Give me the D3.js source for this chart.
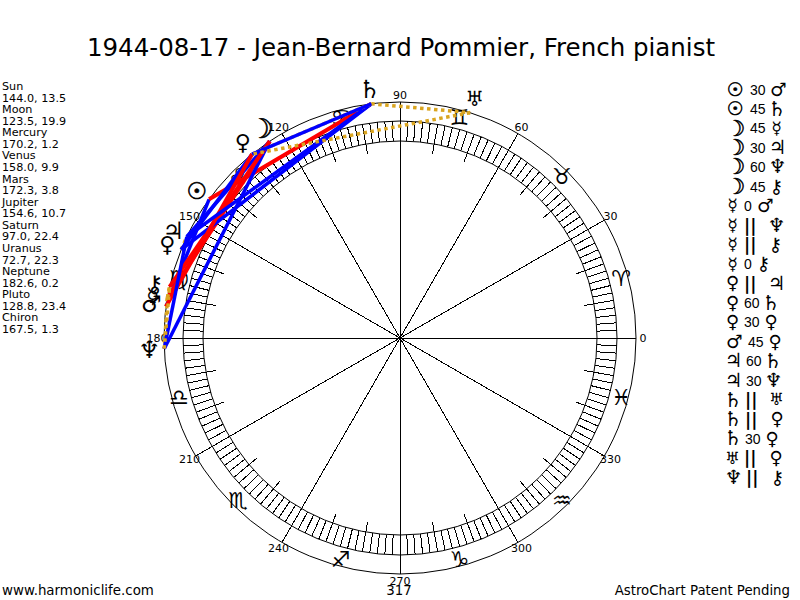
<!DOCTYPE html>
<html>
<head>
<meta charset="utf-8">
<script src="https://cdn.jsdelivr.net/npm/d3@7"></script>
<style>
  html, body { margin: 0; padding: 0; background: #fff; }
  text { font-family: "DejaVu Sans", sans-serif; fill: #000; }
</style>
</head>
<body>
<div id="chart"></div>
<script>
const title = "1944-08-17 - Jean-Bernard Pommier, French pianist";

// planet table
const planets = ["Sun", "Moon", "Mercury", "Venus", "Mars", "Jupiter", "Saturn", "Uranus", "Neptune", "Pluto", "Chiron"];
const longitudes = [144.0, 123.5, 170.2, 158.0, 172.3, 154.6, 97.0, 72.7, 182.6, 128.8, 167.5];
const latitudes = [13.5, 19.9, 1.2, 9.9, 3.8, 10.7, 22.4, 22.3, 0.2, 23.4, 1.3];
// the source chart draws Pluto with a Venus-like glyph
const planetGlyphs = ["☉", "☽", "☿", "♀", "♂", "♃", "♄", "♅", "♆", "♀", "⚷"];

const zodiac = ["♈", "♉", "♊", "♋", "♌", "♍", "♎", "♏", "♐", "♑", "♒", "♓"];
const degreeLabels = [0, 30, 60, 90, 120, 150, 180, 210, 240, 270, 300, 330];

// aspect list on the right: first planet, aspect, second planet
const aspectFrom = ["Sun", "Sun", "Moon", "Moon", "Moon", "Moon", "Mercury", "Mercury", "Mercury", "Mercury", "Venus", "Venus", "Venus", "Mars", "Jupiter", "Jupiter", "Saturn", "Saturn", "Saturn", "Uranus", "Neptune"];
const aspectKind = ["30", "45", "45", "30", "60", "45", "0", "||", "||", "0", "||", "60", "30", "45", "60", "30", "||", "||", "30", "||", "||"];
const aspectTo = ["Mars", "Saturn", "Mercury", "Jupiter", "Neptune", "Chiron", "Mars", "Neptune", "Chiron", "Chiron", "Jupiter", "Saturn", "Pluto", "Pluto", "Saturn", "Neptune", "Uranus", "Pluto", "Pluto", "Pluto", "Chiron"];

const footerLeft = "www.harmoniclife.com";
const footerRight = "AstroChart Patent Pending";
const footerCenter = "317";

const width = 800, height = 600;
const cx = 400, cy = 338;

const svg = d3.select("#chart").append("svg")
    .attr("width", width)
    .attr("height", height)
    .style("display", "block");

const angle = d3.scaleLinear().domain([0, 360]).range([0, -2 * Math.PI]);
const radius = { outer: 236, bandOuter: 217, bandInner: 197, stub: 187, zodiac: 229, planet: 251, label: 243 };
const px = (deg, r) => cx + r * Math.cos(angle(deg));
const py = (deg, r) => cy + r * Math.sin(angle(deg));
const lonOf = name => longitudes[planets.indexOf(name)];
const glyphOf = name => planetGlyphs[planets.indexOf(name)];

// DejaVu draws some of these small, so each gets its own size
const glyphSize = { Sun: 23, Moon: 27, Mercury: 21, Venus: 22, Mars: 23, Jupiter: 24, Saturn: 25, Uranus: 21, Neptune: 24, Pluto: 22, Chiron: 23 };
const glyphStroke = name => (name === "Sun" || name === "Moon") ? "#000" : null;

svg.append("text")
    .attr("x", 401).attr("y", 56)
    .attr("text-anchor", "middle")
    .style("font-size", "24.5px")
    .text(title);

// left column
const leftLines = planets.flatMap((p, i) => [p, `${longitudes[i].toFixed(1)}, ${latitudes[i].toFixed(1)}`]);
svg.append("g").selectAll("text")
    .data(leftLines)
    .enter().append("text")
    .attr("x", 2)
    .attr("y", (d, i) => 90 + i * 11.57)
    .style("font-size", "11.2px")
    .text(d => d);

// wheel
const wheel = svg.append("g").attr("fill", "none").attr("stroke", "#000").attr("stroke-width", 1);
[radius.outer, radius.bandOuter, radius.bandInner].forEach(r => {
    wheel.append("circle").attr("cx", cx).attr("cy", cy).attr("r", r);
});

const spoke = (deg, r0, r1) => wheel.append("line")
    .attr("shape-rendering", "crispEdges")
    .attr("x1", px(deg, r0)).attr("y1", py(deg, r0))
    .attr("x2", px(deg, r1)).attr("y2", py(deg, r1));

d3.range(0, 360, 2).forEach(d => spoke(d, radius.bandInner, radius.bandOuter));
d3.range(0, 360, 10).forEach(d => {
    if (d % 30 === 0) spoke(d, 0, radius.outer);
    else spoke(d, radius.stub, radius.bandOuter);
});

svg.append("g").selectAll("text")
    .data(degreeLabels)
    .enter().append("text")
    .attr("x", d => px(d, radius.label))
    .attr("y", d => py(d, radius.label))
    .attr("dy", "0.35em")
    .attr("text-anchor", "middle")
    .style("font-size", "11px")
    .text(d => d);

svg.append("g").selectAll("text")
    .data(zodiac)
    .enter().append("text")
    .attr("x", (d, i) => px(15 + i * 30, radius.zodiac))
    .attr("y", (d, i) => py(15 + i * 30, radius.zodiac))
    .attr("dy", "0.35em")
    .attr("text-anchor", "middle")
    .style("font-size", "22px")
    .text(d => d);

// aspect chords
const aspectStyle = {
    "30": { color: "#0000ff", width: 3.5, dash: null },
    "60": { color: "#0000ff", width: 3.5, dash: null },
    "45": { color: "#ff0000", width: 4, dash: null },
    "0": { color: "#daa520", width: 3.5, dash: "3.5,3.5" },
    "||": { color: "#daa520", width: 3.5, dash: "3.5,3.5" }
};
svg.append("g").attr("fill", "none").selectAll("line")
    .data(aspectKind)
    .enter().append("line")
    .attr("x1", (d, i) => px(lonOf(aspectFrom[i]), radius.outer))
    .attr("y1", (d, i) => py(lonOf(aspectFrom[i]), radius.outer))
    .attr("x2", (d, i) => px(lonOf(aspectTo[i]), radius.outer))
    .attr("y2", (d, i) => py(lonOf(aspectTo[i]), radius.outer))
    .attr("stroke", d => aspectStyle[d].color)
    .attr("stroke-width", d => aspectStyle[d].width)
    .attr("stroke-dasharray", d => aspectStyle[d].dash);

// planet glyphs round the wheel
svg.append("g").selectAll("text")
    .data(planets)
    .enter().append("text")
    .attr("x", (d, i) => px(longitudes[i], radius.planet))
    .attr("y", (d, i) => py(longitudes[i], radius.planet))
    .attr("dy", "0.35em")
    .attr("text-anchor", "middle")
    .attr("stroke", glyphStroke)
    .attr("stroke-width", 0.6)
    .style("font-size", d => glyphSize[d] + "px")
    .text((d, i) => planetGlyphs[i]);

// right column: glyph, aspect, glyph flowed from the same left edge
const glyphWidth = { Sun: 15, Moon: 15, Mercury: 9, Venus: 9, Mars: 13, Jupiter: 11, Saturn: 10, Uranus: 9, Neptune: 11, Pluto: 10, Chiron: 9 };
const kindWidth = { "30": 15, "45": 15, "60": 15, "0": 8, "||": 20 };
const listX = 728, listY = 89, listStep = 19.4;

const rows = svg.append("g").selectAll("g")
    .data(aspectKind)
    .enter().append("g")
    .attr("transform", (d, i) => `translate(${listX},${listY + i * listStep})`);

rows.append("text")
    .attr("x", (d, i) => glyphWidth[aspectFrom[i]] / 2)
    .attr("dy", "0.35em")
    .attr("text-anchor", "middle")
    .attr("stroke", (d, i) => glyphStroke(aspectFrom[i]))
    .attr("stroke-width", 0.5)
    .style("font-size", (d, i) => glyphSize[aspectFrom[i]] * 0.82 + "px")
    .text((d, i) => glyphOf(aspectFrom[i]));

rows.append("text")
    .attr("x", (d, i) => glyphWidth[aspectFrom[i]] + 7)
    .attr("dy", "0.4em")
    .style("font-family", d => d === "||" ? null : '"Liberation Sans", sans-serif')
    .style("font-size", d => d === "||" ? "17px" : "14px")
    .style("font-weight", d => d === "||" ? "bold" : "normal")
    .text(d => d);

rows.append("text")
    .attr("x", (d, i) => glyphWidth[aspectFrom[i]] + 14 + kindWidth[d] + glyphWidth[aspectTo[i]] / 2)
    .attr("dy", "0.35em")
    .attr("text-anchor", "middle")
    .style("font-size", (d, i) => glyphSize[aspectTo[i]] * 0.82 + "px")
    .text((d, i) => glyphOf(aspectTo[i]));

// footer
svg.append("text").attr("x", 2).attr("y", 595).style("font-size", "13.4px").text(footerLeft);
svg.append("text").attr("x", 399).attr("y", 595).attr("text-anchor", "middle").style("font-size", "13.4px").text(footerCenter);
svg.append("text").attr("x", 790).attr("y", 595).attr("text-anchor", "end").style("font-size", "13.3px").text(footerRight);
</script>
</body>
</html>
